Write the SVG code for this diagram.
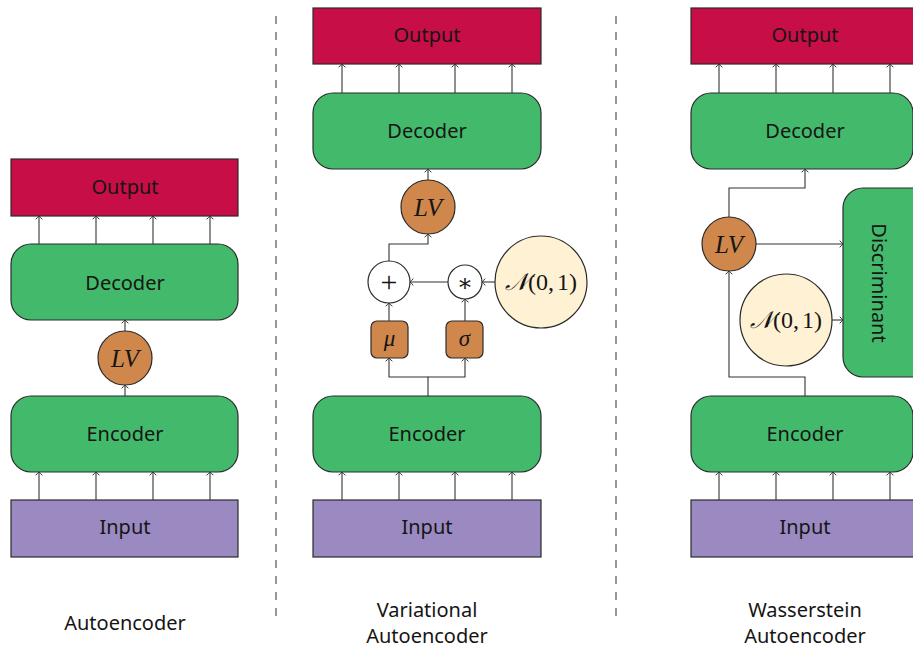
<svg xmlns="http://www.w3.org/2000/svg" width="913" height="648" viewBox="0 0 913 648">
  <defs>
    <style>
      .out { fill: #C70E47; stroke: #2b2b2b; stroke-width: 1.2; }
      .net { fill: #43B96C; stroke: #2b2b2b; stroke-width: 1.2; }
      .inp { fill: #9A8AC1; stroke: #2b2b2b; stroke-width: 1.2; }
      .lv { fill: #D0874B; stroke: #2b2b2b; stroke-width: 1.2; }
      .prior { fill: #FFF1D3; stroke: #2b2b2b; stroke-width: 1.2; }
      .op { fill: #ffffff; stroke: #2b2b2b; stroke-width: 1.2; }
      .lbl { font-family: "Noto Sans", "Open Sans", sans-serif; font-size: 20px; fill: #151515; text-anchor: middle; }
      .math { font-family: "Liberation Serif", "DejaVu Serif", serif; font-style: italic; font-size: 25px; fill: #151515; text-anchor: middle; }
      .mathr { font-family: "Liberation Serif", "DejaVu Serif", serif; font-size: 24px; fill: #151515; text-anchor: middle; }
      .cn { fill: none; stroke: #333333; stroke-width: 1.1; }
      .arr { marker-end: url(#tip); }
      .sep { stroke: #555555; stroke-width: 1.2; stroke-dasharray: 8 8; }
    </style>
    <marker id="tip" markerUnits="userSpaceOnUse" markerWidth="10" markerHeight="10" viewBox="-5 -5 10 10" refX="0" refY="0" orient="auto" overflow="visible">
      <path d="M -3.2 -3.4 Q -1.2 -0.8 0 0 Q -1.2 0.8 -3.2 3.4" fill="none" stroke="#333333" stroke-width="1"/>
    </marker>
  </defs>

  <!-- column separators -->
  <line class="sep" x1="276" y1="16" x2="276" y2="616"/>
  <line class="sep" x1="616" y1="16" x2="616" y2="616"/>

  <!-- ===== Autoencoder ===== -->
  <g id="ae-output"><rect class="out" x="11" y="159" width="227" height="57"/><text class="lbl" x="125" y="194">Output</text></g>
  <g id="ae-decoder"><rect class="net" x="11" y="244" width="227" height="76" rx="20"/><text class="lbl" x="125" y="290">Decoder</text></g>
  <g id="ae-lv"><circle class="lv" cx="125" cy="358" r="27"/><text class="math" x="125" y="366.5">LV</text></g>
  <g id="ae-encoder"><rect class="net" x="11" y="396" width="227" height="76" rx="20"/><text class="lbl" x="125" y="441">Encoder</text></g>
  <g id="ae-input"><rect class="inp" x="11" y="500" width="227" height="57"/><text class="lbl" x="125" y="534">Input</text></g>

  <!-- ===== Variational Autoencoder ===== -->
  <g id="vae-output"><rect class="out" x="313" y="8" width="228" height="56"/><text class="lbl" x="427" y="42">Output</text></g>
  <g id="vae-decoder"><rect class="net" x="313" y="93" width="228" height="76" rx="20"/><text class="lbl" x="427" y="138">Decoder</text></g>
  <g id="vae-lv"><circle class="lv" cx="428" cy="207" r="27"/><text class="math" x="428" y="215.5">LV</text></g>
  <g id="vae-plus"><circle class="op" cx="389" cy="282" r="21"/><text class="mathr" x="389" y="292" style="font-size:30px">+</text></g>
  <g id="vae-times"><circle class="op" cx="465" cy="282" r="17"/><text class="mathr" x="465" y="291" style="font-size:24px">∗</text></g>
  <g id="vae-prior"><circle class="prior" cx="541" cy="282" r="46"/><text class="mathr" x="541" y="290"><tspan font-style="italic">𝒩</tspan>(0,<tspan dx="3">1)</tspan></text></g>
  <g id="vae-mu"><rect class="lv" x="371" y="321" width="37" height="37" rx="6"/><text class="math" x="389.5" y="346" style="font-size:23px">μ</text></g>
  <g id="vae-sigma"><rect class="lv" x="446" y="321" width="37" height="37" rx="6"/><text class="math" x="464.5" y="346" style="font-size:23px">σ</text></g>
  <g id="vae-encoder"><rect class="net" x="313" y="396" width="228" height="76" rx="20"/><text class="lbl" x="427" y="441">Encoder</text></g>
  <g id="vae-input"><rect class="inp" x="313" y="500" width="228" height="57"/><text class="lbl" x="427" y="534">Input</text></g>

  <!-- ===== Wasserstein Autoencoder ===== -->
  <g id="wae-output"><rect class="out" x="691" y="8" width="224" height="56"/><text class="lbl" x="805" y="42">Output</text></g>
  <g id="wae-decoder"><rect class="net" x="691" y="93" width="222" height="76" rx="20"/><text class="lbl" x="805" y="138">Decoder</text></g>
  <g id="wae-lv"><circle class="lv" cx="729" cy="244" r="27"/><text class="math" x="729" y="252.5">LV</text></g>
  <g id="wae-prior"><circle class="prior" cx="786" cy="320" r="46"/><text class="mathr" x="786" y="328"><tspan font-style="italic">𝒩</tspan>(0,<tspan dx="3">1)</tspan></text></g>
  <g id="wae-discriminant"><rect class="net" x="843" y="188" width="100" height="189" rx="20"/><text class="lbl" transform="translate(872 283) rotate(90)" x="0" y="0">Discriminant</text></g>
  <g id="wae-encoder"><rect class="net" x="691" y="396" width="222" height="76" rx="20"/><text class="lbl" x="805" y="441">Encoder</text></g>
  <g id="wae-input"><rect class="inp" x="691" y="500" width="224" height="57"/><text class="lbl" x="805" y="534">Input</text></g>

  <!-- captions -->
  <text class="lbl" x="125" y="630">Autoencoder</text>
  <text class="lbl" x="427" y="617">Variational</text>
  <text class="lbl" x="427" y="643">Autoencoder</text>
  <text class="lbl" x="805" y="617">Wasserstein</text>
  <text class="lbl" x="805" y="643">Autoencoder</text>

  <!-- connectors -->
  <g id="connectors">
    <!-- autoencoder -->
    <path class="cn arr" d="M39 500 V472"/>
    <path class="cn arr" d="M96 500 V472"/>
    <path class="cn arr" d="M153 500 V472"/>
    <path class="cn arr" d="M210 500 V472"/>
    <path class="cn arr" d="M125 396 V385"/>
    <path class="cn arr" d="M125 331 V320"/>
    <path class="cn arr" d="M39 244 V216"/>
    <path class="cn arr" d="M96 244 V216"/>
    <path class="cn arr" d="M153 244 V216"/>
    <path class="cn arr" d="M210 244 V216"/>

    <!-- variational autoencoder -->
    <path class="cn arr" d="M342 500 V472"/>
    <path class="cn arr" d="M399 500 V472"/>
    <path class="cn arr" d="M455 500 V472"/>
    <path class="cn arr" d="M512 500 V472"/>
    <path class="cn arr" d="M428 396 V377 H389 V358"/>
    <path class="cn arr" d="M428 377 H465 V358"/>
    <path class="cn arr" d="M389 321 V303"/>
    <path class="cn arr" d="M465 321 V299"/>
    <path class="cn arr" d="M495 282 H482"/>
    <path class="cn arr" d="M448 282 H410"/>
    <path class="cn arr" d="M389 261 V244 H428 V234"/>
    <path class="cn arr" d="M428 180 V169"/>
    <path class="cn arr" d="M342 93 V64"/>
    <path class="cn arr" d="M399 93 V64"/>
    <path class="cn arr" d="M455 93 V64"/>
    <path class="cn arr" d="M512 93 V64"/>

    <!-- wasserstein autoencoder -->
    <path class="cn arr" d="M719 500 V472"/>
    <path class="cn arr" d="M776 500 V472"/>
    <path class="cn arr" d="M833 500 V472"/>
    <path class="cn arr" d="M890 500 V472"/>
    <path class="cn arr" d="M805 396 V377 H729 V271"/>
    <path class="cn arr" d="M756 244 H843"/>
    <path class="cn arr" d="M832 320 H843"/>
    <path class="cn arr" d="M729 217 V188 H805 V169"/>
    <path class="cn arr" d="M719 93 V64"/>
    <path class="cn arr" d="M776 93 V64"/>
    <path class="cn arr" d="M833 93 V64"/>
    <path class="cn arr" d="M890 93 V64"/>
  </g>
</svg>
